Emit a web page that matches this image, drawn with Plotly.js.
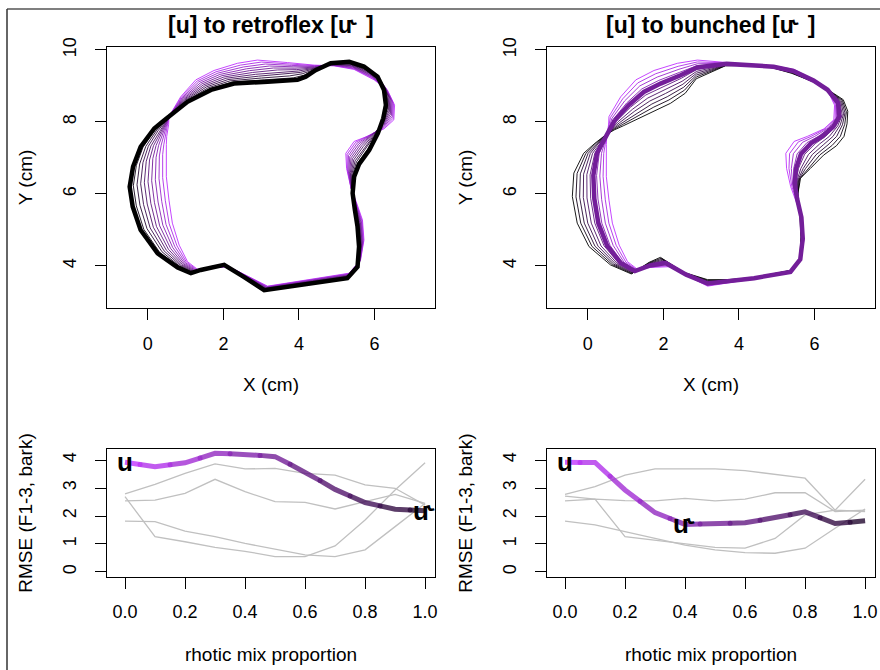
<!DOCTYPE html>
<html><head><meta charset="utf-8">
<script src="https://cdn.plot.ly/plotly-3.0.1.min.js"></script>
<style>html,body{margin:0;padding:0;background:#fff}</style>
</head><body><div id="chart" style="width:880px;height:670px"></div>
<script>
// ---------- data ----------
const mixLevels = [0, 0.1, 0.2, 0.3, 0.4, 0.5, 0.6, 0.7, 0.8, 0.9, 1.0];
const mixTickText = ["0.0", "0.2", "0.4", "0.6", "0.8", "1.0"];

// [u] contour (cm)
const uX = [0.56,0.87,1.27,1.75,2.37,2.90,3.70,4.40,4.93,5.46,5.99,6.34,6.53,6.51,6.25,5.81,5.46,5.24,5.26,5.37,5.53,5.68,5.72,5.63,5.33,4.40,3.70,3.17,2.64,2.15,1.67,1.31,1.05,0.83,0.65,0.56,0.49,0.48,0.49,0.50,0.55];
const uY = [8.15,8.70,9.17,9.43,9.63,9.72,9.65,9.58,9.56,9.46,9.17,8.89,8.47,8.06,7.81,7.60,7.46,7.13,6.71,6.20,5.74,5.28,4.72,4.17,3.80,3.65,3.52,3.44,3.72,3.98,3.96,3.91,4.12,4.58,5.19,5.83,6.48,7.13,7.37,7.60,7.92];
// retroflex [u˞] contour
const retroX = [0.56,1.05,1.67,2.28,3.17,3.96,4.18,4.44,4.84,5.33,5.72,6.08,6.25,6.30,6.23,6.09,5.86,5.59,5.46,5.42,5.48,5.55,5.59,5.55,5.28,4.40,3.70,3.08,2.55,2.02,1.40,1.14,0.79,0.26,-0.19,-0.40,-0.48,-0.39,-0.19,0.17,0.38];
const retroY = [8.15,8.56,8.89,9.07,9.12,9.17,9.26,9.44,9.63,9.67,9.54,9.26,8.89,8.47,8.10,7.69,7.22,6.83,6.48,6.02,5.56,5.09,4.54,3.98,3.66,3.52,3.41,3.33,3.69,4.03,3.89,3.80,3.96,4.35,5.00,5.65,6.20,6.76,7.31,7.82,8.00];
// bunched [u˞] contour
const bunchX = [0.95,1.40,1.80,2.19,2.58,2.87,3.64,4.35,4.90,5.40,5.95,6.35,6.76,6.88,6.86,6.78,6.58,6.24,5.89,5.63,5.56,5.61,5.64,5.61,5.41,4.40,3.70,3.17,2.55,1.92,1.62,1.15,0.60,0.03,-0.28,-0.41,-0.37,-0.11,0.19,0.47,0.70];
const bunchY = [7.90,8.13,8.33,8.52,8.80,9.20,9.56,9.58,9.50,9.35,9.12,8.90,8.62,8.30,7.95,7.60,7.34,7.08,6.71,6.44,6.02,5.46,4.81,4.21,3.89,3.68,3.62,3.62,3.82,4.24,4.10,3.78,4.03,4.54,5.19,5.93,6.58,7.13,7.41,7.64,7.78];

// RMSE (F1-3, bark) vs rhotic mix proportion
const retroRMSE  = [3.92,3.76,3.90,4.24,4.21,4.12,3.58,2.95,2.48,2.24,2.19];
const retroOther1 = [2.79,3.13,3.52,3.86,3.68,3.70,3.52,3.46,3.11,2.99,2.39];
const retroOther2 = [2.54,2.57,2.81,3.31,2.87,2.51,2.49,2.25,2.51,2.77,2.45];
const retroOther3 = [2.69,1.26,1.08,0.88,0.74,0.55,0.55,0.93,1.86,2.93,3.90];
const retroOther4 = [1.82,1.80,1.46,1.26,1.02,0.81,0.61,0.55,0.79,1.62,2.45];

const bunchRMSE  = [3.92,3.91,2.93,2.12,1.70,1.72,1.76,1.94,2.15,1.73,1.83];
const bunchOther1 = [2.77,3.05,3.46,3.68,3.68,3.68,3.62,3.49,3.35,2.21,2.16];
const bunchOther2 = [2.54,2.60,2.55,2.54,2.63,2.54,2.60,2.83,2.83,2.16,2.21];
const bunchOther3 = [2.71,2.60,1.26,1.14,1.02,0.88,0.85,1.20,2.04,2.21,3.31];
const bunchOther4 = [1.82,1.68,1.44,1.20,0.96,0.79,0.69,0.67,0.85,1.56,2.25];

const titles = ["[u] to retroflex [u\u02DE ]", "[u] to bunched [u\u02DE ]"];

// ---------- styling helpers ----------
const startRGB = [192, 50, 255];
const contourEnd = [0, 0, 0];
const rmseEnd = [30, 2, 42];
function mixColor(m, a, end) {
  const e = end || contourEnd;
  const c = startRGB.map((v, k) => Math.round(v * (1 - m) + e[k] * m));
  return a == null ? `rgb(${c[0]},${c[1]},${c[2]})` : `rgba(${c[0]},${c[1]},${c[2]},${a})`;
}
const FONT = "Liberation Sans, Arial, Helvetica, sans-serif";
const traces = [];

function argmin(arr) { let k = 0; arr.forEach((v, i) => { if (v < arr[k]) k = i; }); return k; }

function contourPanel(tx, ty, xa, ya, bestIdx) {
  const mk = (m) => {
    const x = uX.map((v, i) => v * (1 - m) + tx[i] * m);
    const y = uY.map((v, i) => v * (1 - m) + ty[i] * m);
    x.push(x[0]); y.push(y[0]);
    return {x, y};
  };
  mixLevels.forEach((m) => {
    const p = mk(m);
    traces.push({type: "scatter", mode: "lines", x: p.x, y: p.y, xaxis: xa, yaxis: ya,
      line: {color: mixColor(m), width: 0.9}, hoverinfo: "skip", showlegend: false});
  });
  const pb = mk(mixLevels[bestIdx]);
  traces.push({type: "scatter", mode: "lines", x: pb.x, y: pb.y, xaxis: xa, yaxis: ya,
    line: {color: mixColor(mixLevels[bestIdx]), width: 4.5}, hoverinfo: "skip", showlegend: false});
}

function rmsePanel(main, others, xa, ya) {
  others.forEach(o => traces.push({type: "scatter", mode: "lines", x: mixLevels, y: o, xaxis: xa, yaxis: ya,
    line: {color: "#c0c0c0", width: 1.3}, hoverinfo: "skip", showlegend: false}));
  const n = mixLevels.length;
  const mids = [], midY = [];
  for (let i = 0; i < n - 1; i++) { mids.push((mixLevels[i] + mixLevels[i + 1]) / 2); midY.push((main[i] + main[i + 1]) / 2); }
  for (let i = 0; i < n; i++) {
    const x = [i > 0 ? mids[i - 1] : mixLevels[i], mixLevels[i], i < n - 1 ? mids[i] : mixLevels[i]];
    const y = [i > 0 ? midY[i - 1] : main[i], main[i], i < n - 1 ? midY[i] : main[i]];
    traces.push({type: "scatter", mode: "lines", x, y, xaxis: xa, yaxis: ya,
      line: {color: mixColor(mixLevels[i], 0.78, rmseEnd), width: 5}, hoverinfo: "skip", showlegend: false});
  }
  traces.push({type: "scatter", mode: "markers", x: mids, y: midY, xaxis: xa, yaxis: ya,
    marker: {size: 5, color: mids.map(m => mixColor(m, 0.7, rmseEnd))}, hoverinfo: "skip", showlegend: false});
}

const bestRetro = argmin(retroRMSE);
const bestBunch = argmin(bunchRMSE);
contourPanel(retroX, retroY, "x", "y", bestRetro);
contourPanel(bunchX, bunchY, "x2", "y2", bestBunch);
rmsePanel(retroRMSE, [retroOther1, retroOther2, retroOther3, retroOther4], "x3", "y3");
rmsePanel(bunchRMSE, [bunchOther1, bunchOther2, bunchOther3, bunchOther4], "x4", "y4");

// ---------- layout ----------
const W = 880, H = 670;
const px = v => v / W, py = v => 1 - v / H;
const leftDom = [px(107), px(435)], rightDom = [px(547), px(875)];
const topDom = [py(308), py(47)], botDom = [py(577), py(449)];

const tickFont = {family: FONT, size: 18, color: "#000"};
const titleFont = {family: FONT, size: 19, color: "#000"};
function axBase() {
  return {showgrid: false, zeroline: false, showline: true, mirror: true, linecolor: "#000", linewidth: 1,
    ticks: "outside", ticklen: 11, tickwidth: 1, tickcolor: "#000", tickfont: tickFont, fixedrange: true};
}
function xTop(dom, anchor) {
  return Object.assign(axBase(), {domain: dom, anchor, range: [-1.08, 7.6], tickvals: [0, 2, 4, 6],
    ticklabelstandoff: 8, title: {text: "X (cm)", font: titleFont, standoff: 25}});
}
function yTop(dom, anchor) {
  return Object.assign(axBase(), {domain: dom, anchor, range: [2.833, 10.083], tickvals: [4, 6, 8, 10],
    tickangle: -90, ticklabelstandoff: 12, title: {text: "Y (cm)", font: titleFont, standoff: 22}});
}
function xBot(dom, anchor) {
  return Object.assign(axBase(), {domain: dom, anchor, range: [-0.06, 1.033],
    tickvals: [0, 0.2, 0.4, 0.6, 0.8, 1.0], ticktext: mixTickText,
    ticklabelstandoff: 7, title: {text: "rhotic mix proportion", font: titleFont, standoff: 27}});
}
function yBot(dom, anchor) {
  return Object.assign(axBase(), {domain: dom, anchor, range: [-0.179, 4.393], tickvals: [0, 1, 2, 3, 4],
    tickangle: -90, ticklabelstandoff: 12, title: {text: "RMSE (F1-3, bark)", font: titleFont, standoff: 22}});
}

const labelFont = {family: FONT, size: 26, color: "#000", weight: "bold"};
const annotations = [
  {text: "<b>" + titles[0] + "</b>", xref: "paper", yref: "paper", x: (leftDom[0] + leftDom[1]) / 2, y: py(25),
   xanchor: "center", yanchor: "middle", showarrow: false, font: {family: FONT, size: 23, color: "#000"}},
  {text: "<b>" + titles[1] + "</b>", xref: "paper", yref: "paper", x: (rightDom[0] + rightDom[1]) / 2, y: py(25),
   xanchor: "center", yanchor: "middle", showarrow: false, font: {family: FONT, size: 23, color: "#000"}},
  {text: "u", xref: "x3", yref: "y3", x: mixLevels[0], y: retroRMSE[0], showarrow: false, xanchor: "center", yanchor: "middle", font: labelFont},
  {text: "u\u02DE", xref: "x3", yref: "y3", x: mixLevels[bestRetro], y: retroRMSE[bestRetro], showarrow: false, xanchor: "center", yanchor: "middle", font: labelFont},
  {text: "u", xref: "x4", yref: "y4", x: mixLevels[0], y: bunchRMSE[0], showarrow: false, xanchor: "center", yanchor: "middle", font: labelFont},
  {text: "u\u02DE", xref: "x4", yref: "y4", x: mixLevels[bestBunch], y: bunchRMSE[bestBunch], showarrow: false, xanchor: "center", yanchor: "middle", font: labelFont}
];

const shapes = [
  {type: "line", xref: "paper", yref: "paper", x0: px(7), y0: py(9), x1: 1, y1: py(9), line: {color: "#555", width: 1.5}},
  {type: "line", xref: "paper", yref: "paper", x0: px(7), y0: py(9), x1: px(7), y1: 0, line: {color: "#333", width: 1.5}}
];

const layout = {
  width: W, height: H, margin: {l: 0, r: 0, t: 0, b: 0}, paper_bgcolor: "#fff", plot_bgcolor: "#fff",
  showlegend: false, font: {family: FONT, color: "#000"},
  xaxis: xTop(leftDom, "y"), yaxis: yTop(topDom, "x"),
  xaxis2: xTop(rightDom, "y2"), yaxis2: yTop(topDom, "x2"),
  xaxis3: xBot(leftDom, "y3"), yaxis3: yBot(botDom, "x3"),
  xaxis4: xBot(rightDom, "y4"), yaxis4: yBot(botDom, "x4"),
  annotations, shapes
};

Plotly.newPlot("chart", traces, layout, {displayModeBar: false, staticPlot: true});
</script></body></html>
